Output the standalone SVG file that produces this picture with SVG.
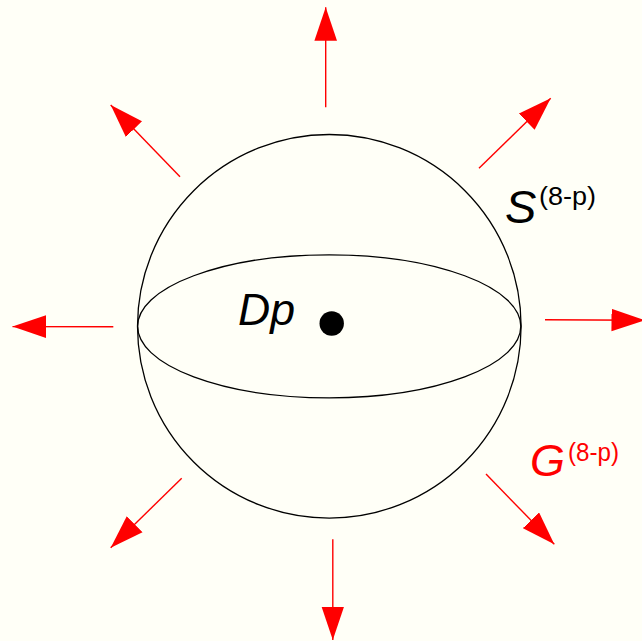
<svg xmlns="http://www.w3.org/2000/svg" width="642" height="641" viewBox="0 0 642 641">
  <defs>
    <marker id="head" markerUnits="userSpaceOnUse" markerWidth="34" markerHeight="23" viewBox="0 0 34 22.6" refX="33.5" refY="11.3" orient="auto">
      <path d="M0,0 L33.5,11.3 L0,22.6 Z" fill="#ff0000"/>
    </marker>
    <style>
      .arrow { stroke: #ff0000; stroke-width: 1.4; fill: none; marker-end: url(#head); }
      .outline { fill: none; stroke: #000; stroke-width: 1.3; }
      .lbl { font-family: "Liberation Sans", Arial, sans-serif; font-style: italic; }
      .sup { font-family: "Liberation Sans", Arial, sans-serif; }
    </style>
  </defs>
  <rect width="642" height="641" fill="#fffff7"/>

  <g id="sphere">
    <circle class="outline" cx="329.3" cy="326.3" r="191.8"/>
  </g>
  <g id="equator">
    <ellipse class="outline" cx="329.2" cy="326.3" rx="191.6" ry="71.5"/>
  </g>
  <g id="dp">
    <circle cx="331.7" cy="323.5" r="12.2" fill="#000"/>
    <text class="lbl" x="238" y="325" font-size="44" textLength="57" lengthAdjust="spacingAndGlyphs" fill="#000">Dp</text>
  </g>
  <g id="s-label">
    <text class="lbl" x="505" y="223" font-size="47" fill="#000">S</text>
    <text class="sup" x="539" y="205" font-size="26" textLength="57" lengthAdjust="spacingAndGlyphs" fill="#000">(8-p)</text>
  </g>
  <g id="g-label">
    <text class="lbl" x="530" y="476" font-size="45" fill="#ff0000">G</text>
    <text class="sup" x="568" y="461" font-size="25" textLength="51" lengthAdjust="spacingAndGlyphs" fill="#ff0000">(8-p)</text>
  </g>

  <g id="connectors">
    <line class="arrow" x1="325.7" y1="107.3" x2="325.7" y2="7.3"/>
    <line class="arrow" x1="332.8" y1="539.3" x2="332.8" y2="640"/>
    <line class="arrow" x1="113.3" y1="326.8" x2="12.5" y2="326.6"/>
    <line class="arrow" x1="545" y1="319.8" x2="645" y2="320.2"/>
    <line class="arrow" x1="180" y1="176.7" x2="110.7" y2="105"/>
    <line class="arrow" x1="479" y1="168.3" x2="550.7" y2="98.3"/>
    <line class="arrow" x1="181.7" y1="478.3" x2="110.7" y2="547.7"/>
    <line class="arrow" x1="486" y1="474" x2="554.3" y2="544.3"/>
  </g>
</svg>
